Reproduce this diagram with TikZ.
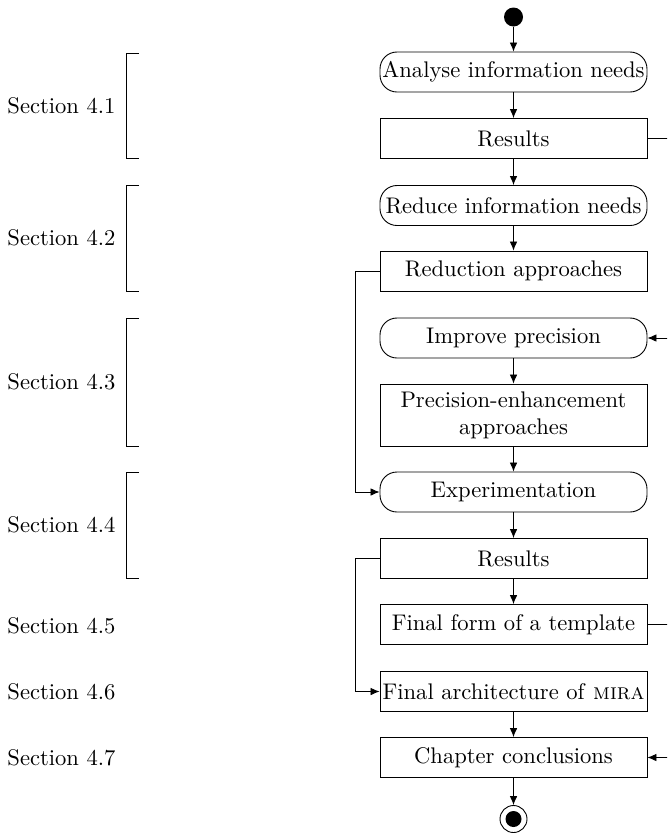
\documentclass[tikz,border=0pt]{standalone}
\usetikzlibrary{arrows.meta}
\begin{document}
\begin{tikzpicture}[x=0.4425pt, y=-0.4425pt, line width=0.4pt,
  every node/.style={font=\fontsize{10}{12}\selectfont},
  stepbox/.style={draw, rectangle, minimum width=267*0.4425pt, minimum height=40*0.4425pt, inner sep=1pt, align=center},
  actbox/.style={stepbox, rounded corners=7.5pt},
  flow/.style={-{Latex[length=4pt,width=3.4pt]}},
  bracket/.style={draw},
  seclabel/.style={anchor=west, inner sep=0pt}]
  \clip (0,0) rectangle (667,833);

  % start and end markers
  \node[circle, fill=black, minimum size=19*0.4425pt, inner sep=0pt] (start) at (513.5,17) {};
  \node[circle, draw, minimum size=27*0.4425pt, inner sep=0pt] (stop) at (513.5,819) {};
  \node[circle, fill=black, minimum size=16*0.4425pt, inner sep=0pt] (stopdot) at (513.5,819) {};

  % activities and results
  \node[actbox]  (analyse)   at (513.5,72)    {Analyse information needs};
  \node[stepbox] (res1)      at (513.5,138.5) {Results};
  \node[actbox]  (reduce)    at (513.5,205.5) {Reduce information needs};
  \node[stepbox] (reduction) at (513.5,271)   {Reduction approaches};
  \node[actbox]  (improve)   at (513.5,338)   {Improve precision};
  \node[stepbox, minimum height=62*0.4425pt] (precision) at (513.5,415) {Precision-enhancement\\approaches};
  \node[actbox]  (experiment) at (513.5,492)  {Experimentation};
  \node[stepbox] (res2)      at (513.5,558.5) {Results};
  \node[stepbox] (finalform) at (513.5,624.5) {Final form of a template};
  \node[stepbox] (finalarch) at (513.5,691.5) {Final architecture of \textsc{mira}};
  \node[stepbox] (chapter)   at (513.5,757.5) {Chapter conclusions};

  % main flow
  \draw[flow] (start) -- (analyse);
  \draw[flow] (analyse) -- (res1);
  \draw[flow] (res1) -- (reduce);
  \draw[flow] (reduce) -- (reduction);
  \draw[flow] (improve) -- (precision);
  \draw[flow] (precision) -- (experiment);
  \draw[flow] (experiment) -- (res2);
  \draw[flow] (res2) -- (finalform);
  \draw[flow] (finalarch) -- (chapter);
  \draw[flow] (chapter) -- (stop);

  % side routes
  \coordinate (la) at (355,271);
  \coordinate (lb) at (355,558.5);
  \coordinate (ra) at (690,138.5);
  \coordinate (rb) at (690,624.5);
  \draw[flow] (reduction.west) -- (la) |- (experiment.west);
  \draw[flow] (res2.west) -- (lb) |- (finalarch.west);
  \draw[flow] (res1.east) -- (ra) |- (improve.east);
  \draw[flow] (finalform.east) -- (rb) |- (chapter.east);

  % section brackets
  \draw[bracket] (139,53) -- (126,53) -- (126,158) -- (139,158);
  \draw[bracket] (139,185) -- (126,185) -- (126,291) -- (139,291);
  \draw[bracket] (139,318) -- (126,318) -- (126,446) -- (139,446);
  \draw[bracket] (139,472) -- (126,472) -- (126,578) -- (139,578);

  % section labels
  \node[seclabel] (s1) at (7,105.5) {Section 4.1};
  \node[seclabel] (s2) at (7,238)   {Section 4.2};
  \node[seclabel] (s3) at (7,382)   {Section 4.3};
  \node[seclabel] (s4) at (7,525)   {Section 4.4};
  \node[seclabel] (s5) at (7,626)   {Section 4.5};
  \node[seclabel] (s6) at (7,692)   {Section 4.6};
  \node[seclabel] (s7) at (7,757.5) {Section 4.7};
\end{tikzpicture}
\end{document}
